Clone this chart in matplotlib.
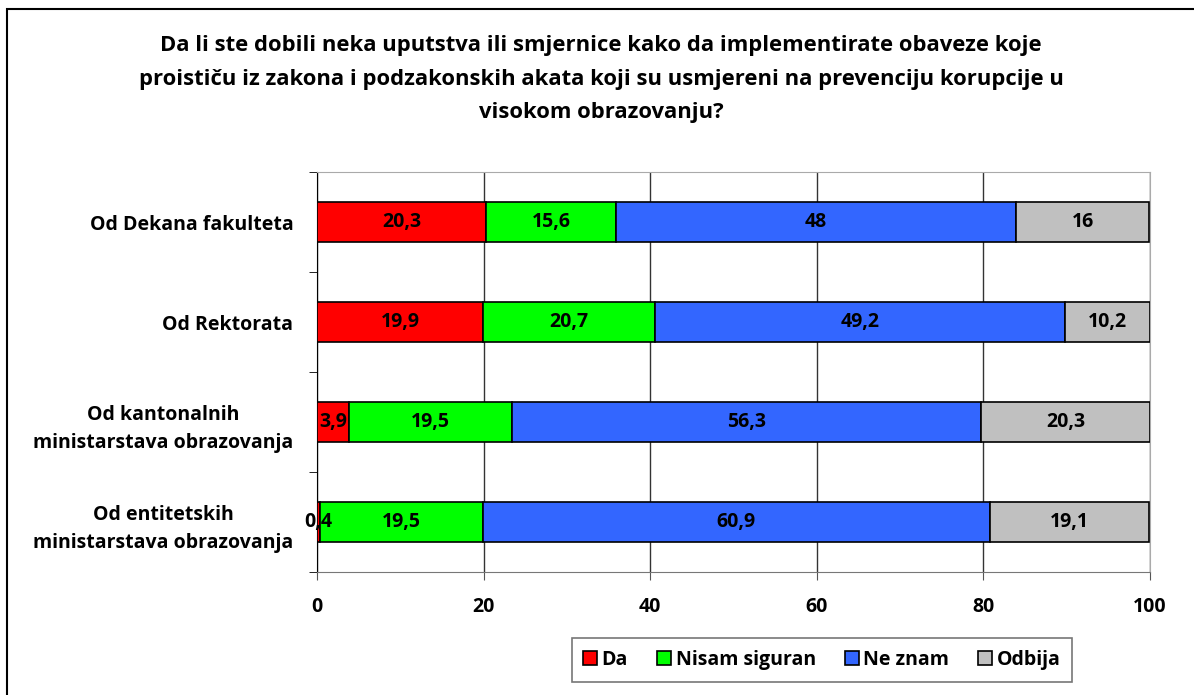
import matplotlib.pyplot as plt
from matplotlib.patches import Rectangle

plt.rcParams['font.family'] = ['Open Sans', 'DejaVu Sans']
plt.rcParams['font.weight'] = 'bold'

categories = ['Od Dekana fakulteta', 'Od Rektorata',
              'Od kantonalnih\nministarstava obrazovanja',
              'Od entitetskih\nministarstava obrazovanja']
series_names = ['Da', 'Nisam siguran', 'Ne znam', 'Odbija']
da = [20.3, 19.9, 3.9, 0.4]
nisam = [15.6, 20.7, 19.5, 19.5]
ne_znam = [48, 49.2, 56.3, 60.9]
odbija = [16, 10.2, 20.3, 19.1]
colors = ['#ff0000', '#00ff00', '#3366ff', '#c0c0c0']

title = ('Da li ste dobili neka uputstva ili smjernice kako da implementirate obaveze koje\n'
         'proističu iz zakona i podzakonskih akata koji su usmjereni na prevenciju korupcije u\n'
         'visokom obrazovanju?')

fs = 14

fig = plt.figure(figsize=(11.94, 6.95), dpi=100)
ax = fig.add_axes([317 / 1194, 1 - 572 / 695, (1150 - 317) / 1194, 400 / 695])

# outer chart frame
fig.patches.append(Rectangle((7 / 1194, -0.01), 1.1, 1 - 9 / 695 + 0.01,
                             transform=fig.transFigure, fill=False,
                             edgecolor='black', lw=1.5))

ypos = list(range(len(categories)))
left = [0.0] * len(categories)
for name, vals, c in zip(series_names, [da, nisam, ne_znam, odbija], colors):
    bars = ax.barh(ypos, vals, left=left, height=0.4, color=c,
                   edgecolor='black', lw=1.2, label=name, zorder=3)
    for b, v in zip(bars, vals):
        txt = f'{v:g}'.replace('.', ',')
        ax.text(b.get_x() + b.get_width() / 2, b.get_y() + b.get_height() / 2,
                txt, ha='center', va='center', fontsize=fs,
                fontweight='bold', zorder=4)
    left = [l + v for l, v in zip(left, vals)]

ax.set_xlim(0, 100)
ax.set_ylim(len(categories) - 0.5, -0.5)
ax.set_xticks([0, 20, 40, 60, 80, 100])
ax.set_yticks(ypos)
ax.set_yticklabels(categories, fontsize=fs, fontweight='bold',
                   multialignment='center', linespacing=1.55)
ax.set_yticks([-0.5, 0.5, 1.5, 2.5, 3.5], minor=True)
ax.tick_params(axis='y', which='major', length=0, pad=17)
ax.tick_params(axis='y', which='minor', length=6, color='black')
ax.tick_params(axis='x', length=6, pad=12, labelsize=fs, color='#555555')
for lab in ax.get_xticklabels():
    lab.set_fontweight('bold')
ax.grid(axis='x', color='#333333', lw=1, zorder=0)
ax.spines['left'].set_color('black')
ax.spines['bottom'].set_color('#777777')
ax.spines['top'].set_color('#aaaaaa')
ax.spines['right'].set_color('#aaaaaa')

fig.text(601 / 1194, 1 - 79 / 695, title, ha='center', va='center',
         fontsize=15.8, fontweight='bold', linespacing=1.8)

leg = fig.legend(loc='center', bbox_to_anchor=(822 / 1194, 1 - 660 / 695),
                 ncol=4, frameon=True, fancybox=False, fontsize=fs,
                 handlelength=0.7, handleheight=0.7, handletextpad=0.25,
                 columnspacing=1.5, borderpad=0.6)
leg.get_frame().set_edgecolor('#555555')
leg.get_frame().set_linewidth(1.2)
for t in leg.get_texts():
    t.set_fontweight('bold')

fig.savefig('out.png', dpi=100)
